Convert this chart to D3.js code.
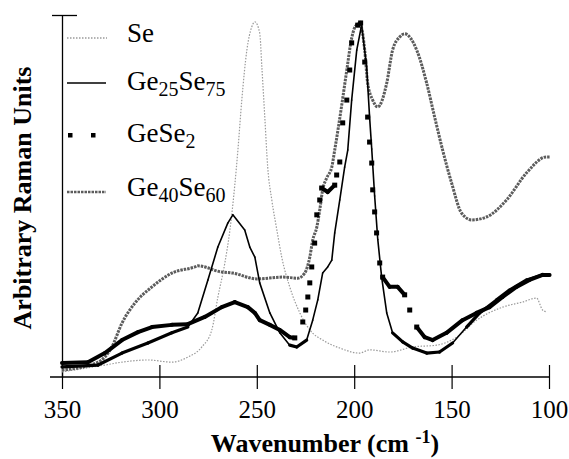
<!DOCTYPE html>
<html>
<head>
<meta charset="utf-8">
<script src="https://cdn.jsdelivr.net/npm/d3@7"></script>
<style>
    body { margin: 0; background: #fff; }
</style>
</head>
<body>
<div id="chart"></div>
<script>

// ---- data (wavenumber in cm-1, intensity in arbitrary units 0..100)
const seWave = [350, 328, 319.2, 305.9, 293.6, 285.4, 278.2, 273.1, 270, 266.4, 263.8, 261.3, 259.7, 257.7, 255.1,
    252.6, 251, 248.5, 247.4, 245.9, 244.4, 242.3, 239.7, 237.2, 233.1, 227.9, 222.8, 216.2, 207.4, 197.2,
    192.1, 181.8, 170, 157.7, 147.4, 137.2, 123.8, 113.6, 106.4, 103.3, 101.3];
const seInt = [1.4, 3.3, 4.1, 4.7, 4.1, 5.5, 8.3, 13, 22, 31.5, 40.6, 53, 62.7, 76.5, 90.3,
    96.7, 98.1, 95, 85.6, 71.8, 58, 48.9, 40.6, 33.1, 24.9, 17.7, 13, 10.2, 8, 6.6,
    7.5, 6.9, 8.3, 8.8, 11, 15.7, 19.3, 20.7, 21.8, 18.5, 18];

const ge25Wave = [350, 331.5, 319.2, 305.9, 293.6, 285.4, 280.3, 275.1, 270, 264.9, 262.3, 256.2, 253.6, 251,
    248.5, 243.3, 238.2, 233.1, 229.5, 224.4, 221.3, 218.7, 216.2, 213.6, 211.5, 210, 207.4, 204.9, 203.3,
    201.3, 198.7, 196.2, 193.6, 192.1, 191, 189.5, 187.9, 185.9, 183.3, 180.3, 175.1, 170, 162.8, 156.2,
    149.5, 142.3, 135.6, 126.9, 120.3, 111.5, 103.3, 99.7];
const ge25Int = [2.8, 3.3, 6.6, 9.4, 12.2, 13.8, 17.7, 26.8, 35.9, 42.5, 44.8, 40.6, 35.9, 33.1,
    26, 17.7, 12.2, 8.8, 8.3, 10.2, 15.7, 21.3, 28.7, 30.4, 32.3, 39.8, 48.9, 58, 62.7,
    76.5, 90.3, 97.2, 85.6, 71.8, 63, 50, 38, 27.5, 17.7, 12.2, 9.7, 8, 6.6, 6.9,
    9.4, 13.8, 17.7, 21.3, 24, 26.8, 28.2, 28.2];

const geSe2Wave = [350, 336.7, 328, 319.2, 311, 303.8, 293.6, 285.4, 276.7, 268, 261.3, 254.6, 251, 248.5,
    243.3, 238.2, 233.1, 230.5, 226.4, 224.9, 223.8, 222.8, 221.8, 220.3, 219.2, 217.7, 216.7, 213.6, 210,
    209, 207.4, 205.9, 203.8, 202.3, 201.3, 198.2, 196.7, 194.6, 193.1, 192.1, 191, 190.5, 189.5, 188.5,
    186.9, 185.4, 181.8, 177.7, 174.1, 171.5, 167.9, 163.8, 159.7, 152.6, 144.4, 137.2, 130.5, 123.8,
    116.7, 110, 103.3, 99.7];
const geSe2Int = [3.9, 4.1, 6.6, 10.2, 12.4, 13.8, 14.4, 14.6, 16.6, 19.3, 20.7, 19.3, 17.7, 15.7,
    14.4, 13, 11, 10.8, 15.2, 18.5, 22.1, 26, 30.4, 37, 44.8, 48.9, 52.2, 51.1, 53,
    55.8, 59.4, 70.2, 76.5, 84.8, 92.3, 97.2, 97.8, 87, 71.8, 64.9, 59.1, 51.7, 45.6, 39.8,
    31.5, 27.6, 24.9, 24.9, 22.7, 18.5, 13.8, 11, 10.2, 12.2, 15.7, 17.7, 19.3, 22.1,
    24.9, 26.8, 28.2, 28.2];

const ge40Wave = [350, 331.5, 324.4, 319.2, 312.6, 303.8, 293.6, 281.8, 280.3, 268, 262.3, 250, 236.7, 229,
    225.4, 222.8, 221.3, 219.2, 217.7, 216.2, 214.1, 211.5, 210, 206.4, 203.8, 201.3, 198.7, 196.7,
    194.6, 193.1, 190.5, 187.9, 183.3, 180.3, 176.7, 174.1, 167.9, 162.8, 158.7, 154.6, 150, 144.9,
    139.7, 132.1, 121.8, 111.5, 101.3, 99.7];
const ge40Int = [1.9, 4.1, 8.3, 14.9, 20.4, 24.9, 28.7, 30.4, 30.7, 29, 28.7, 27.1, 27.6, 27.3,
    28.7, 33.1, 37.8, 41.4, 46.1, 51.7, 55, 58, 62.7, 75.1, 84.8, 93.6, 97.2, 97,
    90.3, 81.2, 76.5, 74.6, 81.2, 90.3, 93.9, 94.8, 90.3, 81.2, 71.8, 62.7, 53.6, 45.3,
    43.4, 44.2, 48.9, 56.4, 60.8, 60.8];

const xTicks = [350, 300, 250, 200, 150, 100];

// legend labels: [text, isSubscript]
const legendLabels = [
    [["Se", false]],
    [["Ge", false], ["25", true], ["Se", false], ["75", true]],
    [["GeSe", false], ["2", true]],
    [["Ge", false], ["40", true], ["Se", false], ["60", true]]
];

// ---- drawing
const chartW = 569, chartH = 459;
const fontSerif = '"Liberation Serif", Tinos, "DejaVu Serif"';

const svg = d3.select("#chart").append("svg")
    .attr("width", chartW)
    .attr("height", chartH)
    .attr("font-family", "Liberation Serif");

const xScale = d3.scaleLinear().domain([350, 100]).range([62, 549]);
const yScale = d3.scaleLinear().domain([0, 100]).range([377, 15]);

// axes
svg.append("line")
    .attr("x1", 50).attr("x2", 549)
    .attr("y1", yScale(0)).attr("y2", yScale(0))
    .attr("stroke", "#000").attr("stroke-width", 1.3);

const xAxis = d3.axisBottom(xScale)
    .tickValues(xTicks)
    .tickSizeOuter(0)
    .tickPadding(0);

const xAxisGroup = svg.append("g")
    .attr("transform", `translate(0, ${yScale(0)})`)
    .call(xAxis)
    .attr("font-family", "Liberation Serif");
xAxisGroup.select(".domain").remove();
xAxisGroup.selectAll(".tick line")
    .attr("y1", -12).attr("y2", 12)
    .attr("stroke-width", 1.2);
xAxisGroup.selectAll(".tick text")
    .attr("y", 41)
    .attr("dy", 0)
    .style("font-size", "25px");

const yAxis = d3.axisLeft(yScale)
    .tickValues([100])
    .tickFormat("")
    .tickSizeOuter(0);

const yAxisGroup = svg.append("g")
    .attr("transform", `translate(${xScale(350)}, 0)`)
    .call(yAxis);
yAxisGroup.select(".domain").attr("stroke-width", 1.3);
yAxisGroup.selectAll(".tick line")
    .attr("x1", -10).attr("x2", 15)
    .attr("stroke-width", 1.3);

// axis titles
svg.append("text")
    .attr("x", 325)
    .attr("y", 452)
    .attr("text-anchor", "middle")
    .style("font-size", "26px")
    .style("font-weight", "bold")
    .call(t => {
        t.append("tspan").text("Wavenumber (cm ");
        t.append("tspan").attr("dy", -9).style("font-size", "18px").text("-1");
        t.append("tspan").attr("dy", 9).text(")");
    });

svg.append("text")
    .attr("transform", "translate(31, 198) rotate(-90)")
    .attr("text-anchor", "middle")
    .style("font-size", "26px")
    .style("font-weight", "bold")
    .text("Arbitrary Raman Units");

// helpers
const toPoints = (wave, inten) => wave.map((w, i) => [xScale(w), yScale(inten[i])]);
const slope = (a, b) => Math.abs(b[1] - a[1]) / Math.max(Math.abs(b[0] - a[0]), 0.01);

const curveLine = d3.line().curve(d3.curveMonotoneX);

// Se: light dotted
svg.append("path")
    .attr("d", curveLine(toPoints(seWave, seInt)))
    .attr("fill", "none")
    .attr("stroke", "#9a9a9a")
    .attr("stroke-width", 1.2)
    .attr("stroke-dasharray", "1.5 1.5");

// Ge40Se60: grey thick dashed
svg.append("path")
    .attr("d", curveLine(toPoints(ge40Wave, ge40Int)))
    .attr("fill", "none")
    .attr("stroke", "#5c5c5c")
    .attr("stroke-width", 3)
    .attr("stroke-dasharray", "2.5 1");

// Ge25Se75: solid, heavier where the trace is flat
const ge25Pts = toPoints(ge25Wave, ge25Int);
svg.append("g").selectAll("line")
    .data(d3.pairs(ge25Pts))
    .join("line")
    .attr("x1", d => d[0][0]).attr("y1", d => d[0][1])
    .attr("x2", d => d[1][0]).attr("y2", d => d[1][1])
    .attr("stroke", "#000")
    .attr("stroke-linecap", "round")
    .attr("stroke-width", d => slope(d[0], d[1]) < 1.1 ? 3.2 : 1.6);

// GeSe2: thick where flat, separate square points where steep
const geSe2Pts = toPoints(geSe2Wave, geSe2Int);
const geSe2Pairs = d3.pairs(geSe2Pts);
svg.append("g").selectAll("line")
    .data(geSe2Pairs.filter(d => slope(d[0], d[1]) < 1.5))
    .join("line")
    .attr("x1", d => d[0][0]).attr("y1", d => d[0][1])
    .attr("x2", d => d[1][0]).attr("y2", d => d[1][1])
    .attr("stroke", "#000")
    .attr("stroke-linecap", "round")
    .attr("stroke-width", 4);

const squarePts = geSe2Pts.filter((p, i) =>
    (i > 0 && slope(geSe2Pts[i - 1], p) >= 1.5) ||
    (i < geSe2Pts.length - 1 && slope(p, geSe2Pts[i + 1]) >= 1.5));
svg.append("g").selectAll("rect")
    .data(squarePts)
    .join("rect")
    .attr("x", d => d[0] - 2.5).attr("y", d => d[1] - 2.5)
    .attr("width", 5).attr("height", 5)
    .attr("fill", "#000");

// legend
const legendY = [42, 90, 142, 196];
const legend = svg.append("g");

legend.append("line")
    .attr("x1", 67).attr("x2", 107).attr("y1", legendY[0] - 4).attr("y2", legendY[0] - 4)
    .attr("stroke", "#9a9a9a").attr("stroke-width", 1.3).attr("stroke-dasharray", "1.5 1.5");
legend.append("line")
    .attr("x1", 67).attr("x2", 106).attr("y1", legendY[1] - 7).attr("y2", legendY[1] - 7)
    .attr("stroke", "#000").attr("stroke-width", 1.6);
legend.selectAll("rect.sq")
    .data([70, 93])
    .join("rect")
    .attr("class", "sq")
    .attr("x", d => d - 2).attr("y", legendY[2] - 9)
    .attr("width", 4.5).attr("height", 4.5)
    .attr("fill", "#000");
legend.append("line")
    .attr("x1", 67).attr("x2", 106).attr("y1", legendY[3] - 4).attr("y2", legendY[3] - 4)
    .attr("stroke", "#5c5c5c").attr("stroke-width", 2.5).attr("stroke-dasharray", "2.5 1");

legendLabels.forEach((parts, i) => {
    const t = legend.append("text")
        .attr("x", 127)
        .attr("y", legendY[i])
        .style("font-size", "27px");
    let sub = false;
    parts.forEach(([txt, isSub]) => {
        const span = t.append("tspan").text(txt);
        if (isSub && !sub) span.attr("dy", 6).style("font-size", "20px");
        else if (isSub) span.style("font-size", "20px");
        if (!isSub && sub) span.attr("dy", -6);
        sub = isSub;
    });
});

// serif face on every text and tspan
svg.selectAll("text, tspan").style("font-family", fontSerif);

</script>
</body>
</html>
